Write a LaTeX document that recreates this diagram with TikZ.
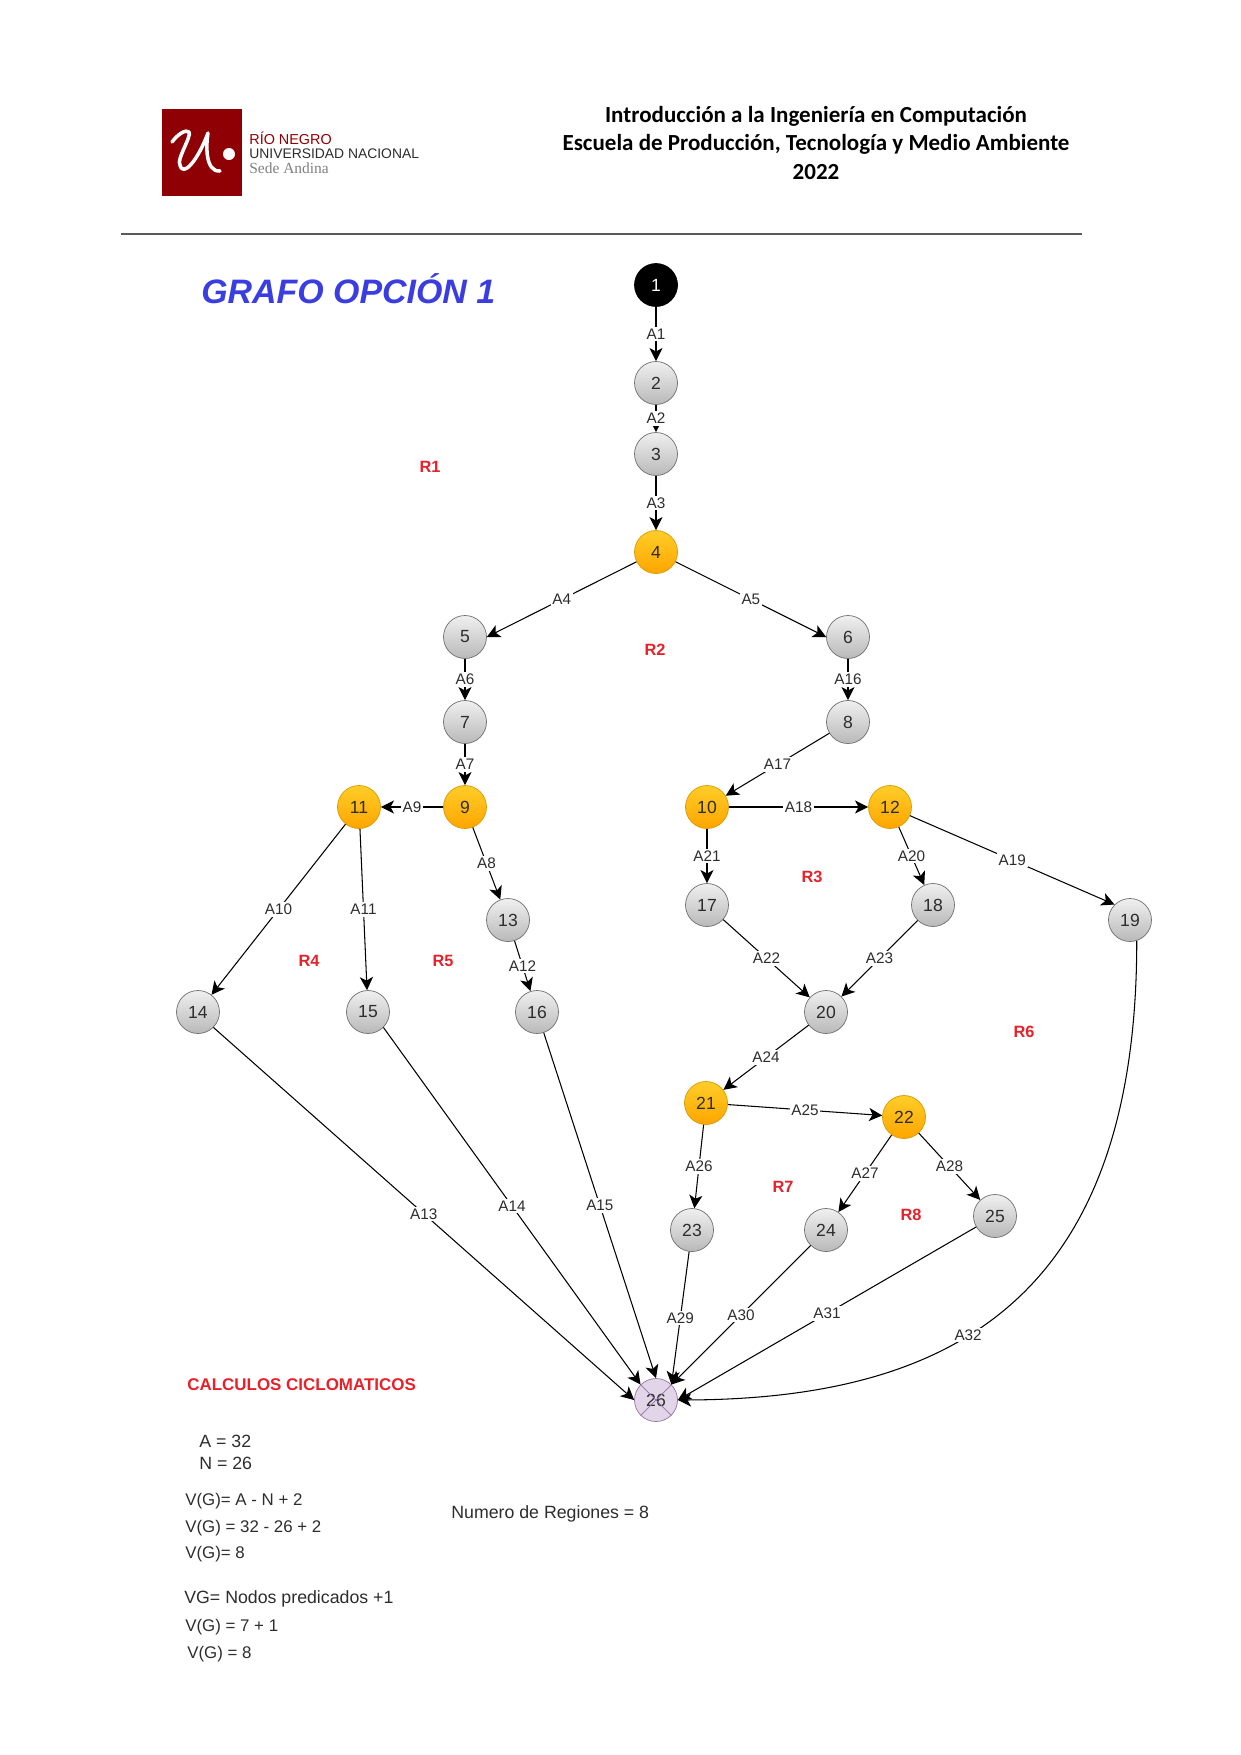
\documentclass[tikz,border=0pt]{standalone}
\usepackage{fontspec}
\setmainfont{Liberation Sans}
\newfontfamily\headfont{Carlito}
\newfontfamily\sedefont{Liberation Serif}
\usetikzlibrary{
    arrows.meta,
    positioning,
    shapes.geometric
}
\definecolor{BrandRed}{RGB}{143,0,5}
\definecolor{RegionRed}{RGB}{232,32,42}
\definecolor{TitleBlue}{RGB}{58,62,224}
\definecolor{TextGray}{RGB}{45,45,45}
\definecolor{RuleGray}{RGB}{90,90,90}
\definecolor{NodeEdge}{RGB}{110,110,110}
\definecolor{OrangeTop}{RGB}{255,205,40}
\definecolor{OrangeBottom}{RGB}{255,165,0}
\definecolor{OrangeEdge}{RGB}{215,155,0}
\definecolor{LightLavender}{RGB}{225,213,231}
\definecolor{LavenderEdge}{RGB}{150,115,166}
\tikzset{
    graynode/.style={
        circle,
        draw=NodeEdge,
        top color=gray!12,
        bottom color=gray!55,
        text=TextGray,
        minimum size=0.86cm,
        inner sep=0pt,
        font=\fontsize{10}{12}\selectfont
    },
    orangenode/.style={
        graynode,
        draw=OrangeEdge,
        top color=OrangeTop,
        bottom color=OrangeBottom
    },
    startnode/.style={
        graynode,
        draw=black,
        top color=black,
        bottom color=black,
        text=white
    },
    endnode/.style={
        graynode,
        draw=LavenderEdge,
        top color=LightLavender,
        bottom color=LightLavender
    },
    flow/.style={
        draw,
        line width=0.6pt,
        -{Stealth[length=7.5pt,width=7.5pt,inset=2pt]}
    },
    edgelabel/.style={
        fill=white,
        text=TextGray,
        inner sep=1pt,
        font=\fontsize{8.7}{10}\selectfont
    },
    regionlabel/.style={
        text=RegionRed,
        inner sep=0pt,
        font=\bfseries\fontsize{9.3}{11}\selectfont
    },
    calclabel/.style={
        anchor=west,
        text=TextGray,
        inner sep=0pt,
        font=\fontsize{10.1}{12}\selectfont
    },
    vglabel/.style={
        calclabel,
        font=\fontsize{9.6}{12}\selectfont
    },
    headline/.style={
        inner sep=0pt,
        font=\headfont\bfseries\fontsize{13.1}{15}\selectfont
    },
    logotext/.style={
        anchor=west,
        inner sep=0pt
    }
}

\begin{document}
\begin{tikzpicture}[
    x=0.02cm,
    y=-0.02cm
]
\useasboundingbox (0,0) rectangle (1241,1755);

% header
\fill[BrandRed] (162,109) rectangle (242,196);
\draw[white, line width=2pt, line cap=round, line join=round]
    (172,142) .. controls (178,134) and (186,129) .. (189,132)
    .. controls (192,136) and (176,160) .. (180,165)
    .. controls (183,178) and (198,160) .. (208,133)
    .. controls (206,145) and (205,172) .. (220,171);
\fill[white] (229,154) circle (6);
\node[logotext, text=BrandRed, font=\fontsize{8.2}{10}\selectfont] (rionegro) at (249,138) {RÍO NEGRO};
\node[logotext, text=TextGray, font=\fontsize{7.9}{9}\selectfont] (universidad) at (249,154) {UNIVERSIDAD NACIONAL};
\node[logotext, text=gray, font=\sedefont\fontsize{8.8}{10}\selectfont] (sede) at (249,168) {Sede Andina};

\node[headline] (course) at (816,116) {Introducción a la Ingeniería en Computación};
\node[headline] (school) at (816,144) {Escuela de Producción, Tecnología y Medio Ambiente};
\node[headline] (year) at (816,172) {2022};
\draw[RuleGray, line width=0.6pt] (121,234) -- (1082,234);

\node[
    anchor=west,
    inner sep=0pt,
    text=TitleBlue,
    font=\bfseries\itshape\fontsize{19.3}{22}\selectfont
] (title) at (201,289) {GRAFO OPCIÓN 1};

% nodes
\node[startnode] (n1) at (656,285) {1};
\node[graynode] (n2) at (656,383) {2};
\node[graynode] (n3) at (656,454) {3};
\node[orangenode] (n4) at (656,552) {4};
\node[graynode] (n5) at (465,637) {5};
\node[graynode] (n6) at (848,637) {6};
\node[graynode] (n7) at (465,722) {7};
\node[graynode] (n8) at (848,722) {8};
\node[orangenode] (n9) at (465,807) {9};
\node[orangenode] (n10) at (707,807) {10};
\node[orangenode] (n11) at (359,807) {11};
\node[orangenode] (n12) at (890,807) {12};
\node[graynode] (n13) at (508,920) {13};
\node[graynode] (n14) at (198,1012) {14};
\node[graynode] (n15) at (368,1012) {15};
\node[graynode] (n16) at (537,1012) {16};
\node[graynode] (n17) at (707,905) {17};
\node[graynode] (n18) at (933,905) {18};
\node[graynode] (n19) at (1130,920) {19};
\node[graynode] (n20) at (826,1012) {20};
\node[orangenode] (n21) at (706,1103) {21};
\node[orangenode] (n22) at (904,1117) {22};
\node[graynode] (n23) at (692,1230) {23};
\node[graynode] (n24) at (826,1230) {24};
\node[graynode] (n25) at (995,1216) {25};
\node[endnode] (n26) at (656,1400) {26};
\draw[LavenderEdge] (n26.45) -- (n26.225);
\draw[LavenderEdge] (n26.135) -- (n26.315);

% edges
\draw[flow] (n1) -- node[edgelabel] {A1} (n2);
\draw[flow] (n2) -- node[edgelabel] {A2} (n3);
\draw[flow] (n3) -- node[edgelabel] {A3} (n4);
\draw[flow] (n4) -- node[edgelabel] {A4} (n5.east);
\draw[flow] (n4) -- node[edgelabel] {A5} (n6.west);
\draw[flow] (n5) -- node[edgelabel] {A6} (n7);
\draw[flow] (n7) -- node[edgelabel] {A7} (n9);
\draw[flow] (n9) -- node[edgelabel] {A8} (n13);
\draw[flow] (n9) -- node[edgelabel] {A9} (n11);
\draw[flow] (n11) -- node[edgelabel] {A10} (n14);
\draw[flow] (n11) -- node[edgelabel] {A11} (n15);
\draw[flow] (n13) -- node[edgelabel] {A12} (n16);
\draw[flow] (n14.south east) -- node[edgelabel] {A13} (n26.west);
\draw[flow] (n15.south east) -- node[edgelabel] {A14} (n26.north west);
\draw[flow] (n16) -- node[edgelabel] {A15} (n26.north);
\draw[flow] (n6) -- node[edgelabel] {A16} (n8);
\draw[flow] (n8) -- node[edgelabel] {A17} (n10);
\draw[flow] (n10) -- node[edgelabel] {A18} (n12);
\draw[flow] (n12) -- node[edgelabel] {A19} (n19.north west);
\draw[flow] (n12) -- node[edgelabel] {A20} (n18);
\draw[flow] (n10) -- node[edgelabel] {A21} (n17);
\draw[flow] (n17) -- node[edgelabel] {A22} (n20);
\draw[flow] (n18) -- node[edgelabel] {A23} (n20);
\draw[flow] (n20) -- node[edgelabel] {A24} (n21);
\draw[flow] (n21) -- node[edgelabel] {A25} (n22);
\draw[flow] (n21) -- node[edgelabel] {A26} (n23);
\draw[flow] (n22) -- node[edgelabel] {A27} (n24);
\draw[flow] (n22) -- node[edgelabel] {A28} (n25);
\draw[flow] (n23) -- node[edgelabel] {A29} (n26.north east);
\draw[flow] (n24) -- node[edgelabel] {A30} (n26.north east);
\draw[flow] (n25) -- node[edgelabel] {A31} (n26.east);
\draw[flow] (n19.-72) .. controls (1137,1300) and (950,1399) .. node[edgelabel, pos=0.58] {A32} (n26.east);

% regions
\node[regionlabel] (r1) at (430,467) {R1};
\node[regionlabel] (r2) at (655,650) {R2};
\node[regionlabel] (r3) at (812,877) {R3};
\node[regionlabel] (r4) at (309,961) {R4};
\node[regionlabel] (r5) at (443,961) {R5};
\node[regionlabel] (r6) at (1024,1032) {R6};
\node[regionlabel] (r7) at (783,1187) {R7};
\node[regionlabel] (r8) at (911,1215) {R8};

% calculations
\node[
    regionlabel,
    anchor=west,
    font=\bfseries\fontsize{9.65}{11}\selectfont
] (calculos) at (187,1385) {CALCULOS CICLOMATICOS};
\node[calclabel] (aristas) at (199,1441) {A = 32};
\node[calclabel] (nodos) at (199,1463) {N = 26};
\node[vglabel] (formula) at (185,1501) {V(G)= A - N + 2};
\node[vglabel] (sust) at (185,1528) {V(G) = 32 - 26 + 2};
\node[vglabel] (result) at (185,1554) {V(G)= 8};
\node[calclabel] (pred) at (184,1599) {VG= Nodos predicados +1};
\node[vglabel] (predsust) at (185,1627) {V(G) = 7 + 1};
\node[vglabel] (predresult) at (187,1654) {V(G) = 8};
\node[calclabel] (regiones) at (451,1514) {Numero de Regiones = 8};
\end{tikzpicture}
\end{document}
